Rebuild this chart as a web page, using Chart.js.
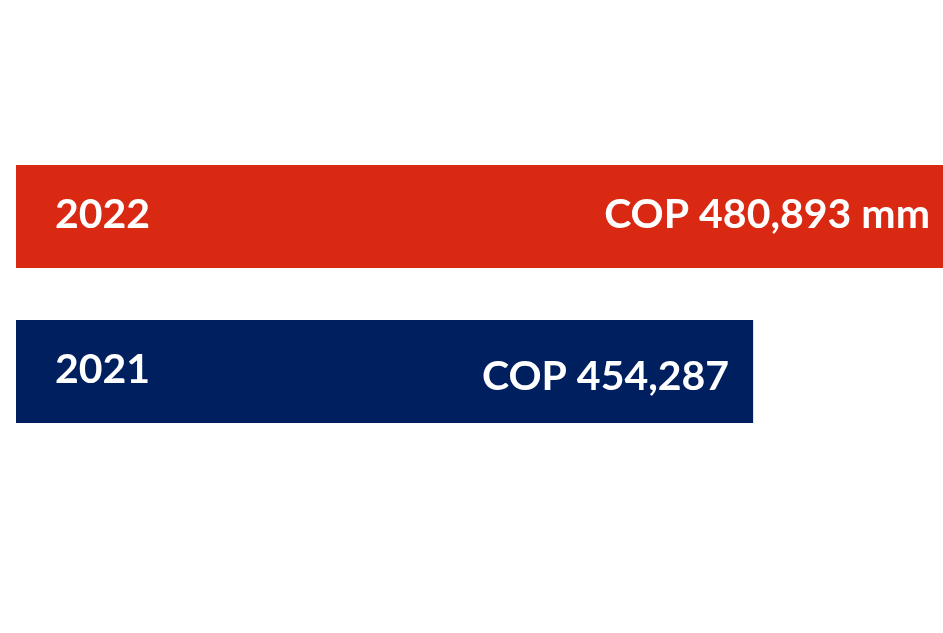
<!DOCTYPE html>
<html>
<head>
<meta charset="utf-8">
<script src="https://cdn.jsdelivr.net/npm/chart.js@4.4.1/dist/chart.umd.min.js"></script>
<style>
  html, body { margin: 0; padding: 0; background: #ffffff; overflow: hidden; }
  #wrap { width: 943px; height: 633px; position: relative; }
</style>
</head>
<body>
<div id="wrap"><canvas id="copChart"></canvas></div>
<script>
// data
const years = ['2022', '2021'];
const amounts = [480893, 454287];
const valueLabels = ['COP 480,893 mm', 'COP 454,287'];
const barColors = ['#DA2913', '#001F5F'];

// draws the year on the left and the amount on the right, inside each bar
const insideLabels = {
    id: 'insideLabels',
    afterDatasetsDraw(chart) {
        const ctx = chart.ctx;
        const meta = chart.getDatasetMeta(0);
        const left = chart.chartArea.left;
        const yearDrop = [11, 11];
        const valueDrop = [11, 18];
        ctx.save();
        ctx.fillStyle = '#ffffff';
        ctx.font = 'bold 41px Lato';
        ctx.textBaseline = 'alphabetic';
        meta.data.forEach((bar, i) => {
            ctx.textAlign = 'left';
            ctx.fillText(years[i], left + 39, bar.y + yearDrop[i]);
            ctx.textAlign = 'right';
            // bar running off the canvas edge -> keep text a bit closer to the edge
            const right = bar.x >= chart.width ? chart.width - 13 : bar.x - 24;
            ctx.fillText(valueLabels[i], right, bar.y + valueDrop[i]);
        });
        ctx.restore();
    }
};

const ctx = document.getElementById('copChart').getContext('2d');
new Chart(ctx, {
    type: 'bar',
    data: {
        labels: years,
        datasets: [{
            data: amounts,
            backgroundColor: barColors,
            borderWidth: 0,
            barPercentage: 1,
            categoryPercentage: 103 / 155
        }]
    },
    options: {
        indexAxis: 'y',
        responsive: true,
        maintainAspectRatio: false,
        animation: false,
        layout: { padding: { left: 16, right: 0, top: 139, bottom: 184 } },
        plugins: {
            legend: { display: false },
            tooltip: { enabled: false }
        },
        scales: {
            x: { display: false, min: 351000, max: 480893 },
            y: { display: false }
        }
    },
    plugins: [insideLabels]
});
</script>
</body>
</html>
